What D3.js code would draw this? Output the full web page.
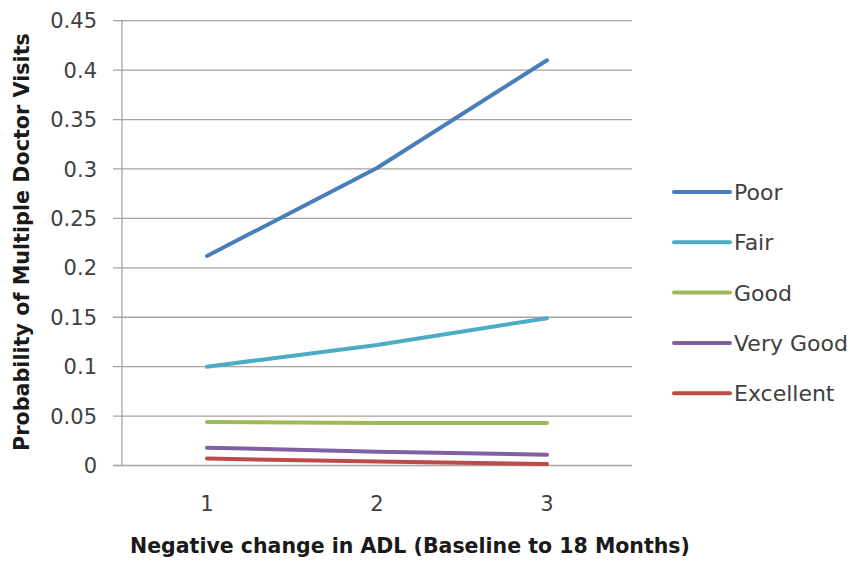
<!DOCTYPE html>
<html><head><meta charset="utf-8">
<script src="https://cdn.jsdelivr.net/npm/d3@7"></script>
<style>body{margin:0;background:#fff}svg{display:block}</style>
</head><body>
<svg id="c" width="858" height="561"></svg>
<script>
const categories = [1, 2, 3];
const seriesNames = ["Poor", "Fair", "Good", "Very Good", "Excellent"];
const poor = [0.212, 0.301, 0.410];
const fair = [0.100, 0.122, 0.149];
const good = [0.044, 0.043, 0.043];
const veryGood = [0.018, 0.014, 0.011];
const excellent = [0.007, 0.004, 0.0015];
const yTicks = [0, 0.05, 0.1, 0.15, 0.2, 0.25, 0.3, 0.35, 0.4, 0.45];
const colors = ["#4a7ebb", "#4bacc6", "#9bbb59", "#7f60a0", "#be4b48"];
const allValues = [poor, fair, good, veryGood, excellent];

const svg = d3.select("#c");
const L = 122, R = 632, T = 20.7, B = 465.5;
const x = d3.scalePoint().domain(categories).range([L, R]).padding(0.5);
const y = d3.scaleLinear().domain([0, 0.45]).range([B, T]);
const font = "DejaVu Sans, sans-serif";
const grid = "#a8a2a0";

// gridlines
svg.append("g").selectAll("line").data(yTicks).join("line")
  .attr("x1", L - 9).attr("x2", R)
  .attr("y1", d => y(d)).attr("y2", d => y(d))
  .attr("stroke", grid).attr("stroke-width", 1.3);
// y axis line
svg.append("line").attr("x1", L).attr("x2", L).attr("y1", T).attr("y2", B)
  .attr("stroke", grid).attr("stroke-width", 1.3);

// y tick labels
svg.append("g").selectAll("text").data(yTicks).join("text")
  .attr("x", 97).attr("y", d => y(d)).attr("dy", "0.36em")
  .attr("text-anchor", "end").attr("font-family", font).attr("font-size", 21)
  .attr("fill", "#404040").text(d => d3.format("")(d));

// x tick labels
svg.append("g").selectAll("text").data(categories).join("text")
  .attr("x", d => x(d)).attr("y", 511)
  .attr("text-anchor", "middle").attr("font-family", font).attr("font-size", 21)
  .attr("fill", "#404040").text(d => d);

// lines
const line = d3.line().x((d, i) => x(categories[i])).y(d => y(d));
svg.append("g").selectAll("path").data(allValues).join("path")
  .attr("d", d => line(d)).attr("fill", "none")
  .attr("stroke", (d, i) => colors[i]).attr("stroke-width", 4)
  .attr("stroke-linecap", "round").attr("stroke-linejoin", "round");

// legend
const lg = svg.append("g").selectAll("g").data(seriesNames).join("g")
  .attr("transform", (d, i) => `translate(0,${192 + i * 50.3})`);
lg.append("line").attr("x1", 674).attr("x2", 730).attr("y1", 0).attr("y2", 0)
  .attr("stroke", (d, i) => colors[i]).attr("stroke-width", 4).attr("stroke-linecap", "round");
lg.append("text").attr("x", 734).attr("y", 0).attr("dy", "0.36em")
  .attr("font-family", font).attr("font-size", 22).attr("fill", "#404040").text(d => d);

// axis titles
const xt = svg.append("text").attr("x", 410).attr("y", 553).attr("text-anchor", "middle")
  .attr("font-family", font).attr("font-weight", "bold").attr("font-size", 19)
  .attr("fill", "#1a1a1a").text("Negative change in ADL (Baseline to 18 Months)");
const yt = svg.append("text").attr("transform", "translate(29,242) rotate(-90)")
  .attr("text-anchor", "middle")
  .attr("font-family", font).attr("font-weight", "bold").attr("font-size", 19)
  .attr("fill", "#1a1a1a").text("Probability of Multiple Doctor Visits");
// fit title widths to reference
function fit(sel, w) {
  const len = sel.node().getComputedTextLength();
  sel.attr("font-size", 19 * w / len);
}
fit(xt, 560);
fit(yt, 418);
</script>
</body></html>
